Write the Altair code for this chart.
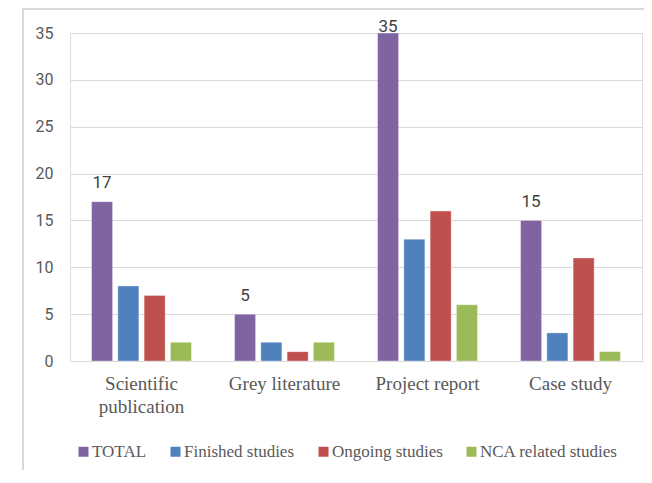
import altair as alt
import pandas as pd

categories = ["Scientific publication", "Grey literature", "Project report", "Case study"]
series = ["TOTAL", "Finished studies", "Ongoing studies", "NCA related studies"]
total = [17, 5, 35, 15]
finished = [8, 2, 13, 3]
ongoing = [7, 1, 16, 11]
nca = [2, 2, 6, 1]
colors = ["#8064A2", "#4F81BD", "#C0504D", "#9BBB59"]

rows = []
for vals, s in zip([total, finished, ongoing, nca], series):
    for c, v in zip(categories, vals):
        rows.append({"category": c, "series": s, "value": v})
df = pd.DataFrame(rows)

x_enc = alt.X(
    "category:N",
    sort=categories,
    scale=alt.Scale(paddingInner=0, paddingOuter=0),
    axis=alt.Axis(
        title=None, domain=False, ticks=False, labelAngle=0, labelPadding=13,
        labelFont="Liberation Serif", labelFontSize=19, labelColor="#595959",
        labelLineHeight=23, labelBaseline="top",
        labelExpr="datum.label == 'Scientific publication' ? ['Scientific', 'publication'] : datum.label",
    ),
)
xoff_enc = alt.XOffset(
    "series:N", sort=series,
    scale=alt.Scale(domain=series, paddingInner=0.2, paddingOuter=0.82),
)
y_enc = alt.Y(
    "value:Q",
    scale=alt.Scale(domain=[0, 35], nice=False),
    axis=alt.Axis(
        title=None, values=[0, 5, 10, 15, 20, 25, 30, 35], domain=False, ticks=False,
        labelPadding=17, labelFont="Roboto", labelFontSize=16, labelColor="#595959",
        gridColor="#d9d9d9", gridWidth=1.2,
    ),
)

bars = alt.Chart(df).mark_bar(stroke="#ffffff", strokeOpacity=0.35, strokeWidth=1).encode(
    x=x_enc,
    xOffset=xoff_enc,
    y=y_enc,
    color=alt.Color(
        "series:N", sort=series,
        scale=alt.Scale(domain=series, range=colors),
        legend=alt.Legend(
            title=None, orient="none", legendX=5, legendY=410, direction="horizontal",
            symbolType="square", symbolSize=100, symbolStrokeWidth=0,
            labelFont="Liberation Serif", labelFontSize=17, labelColor="#595959",
            labelOffset=0, columnPadding=20,
        ),
    ),
)

labels = alt.Chart(df).transform_filter(alt.datum.series == "TOTAL").transform_calculate(
    label_y="min(datum.value + 1.45, 35.1)"
).mark_text(
    baseline="alphabetic", font="Roboto", fontSize=17, color="#404040"
).encode(
    x=alt.X("category:N", sort=categories),
    xOffset=alt.XOffset("series:N", sort=series),
    y=alt.Y("label_y:Q"),
    text=alt.Text("value:Q"),
)

frame_df = pd.DataFrame({"a": [0]})
frame_top = alt.Chart(frame_df).mark_rule(color="#d9d9d9", strokeWidth=2).encode(
    x=alt.value(-48), x2=alt.value(580), y=alt.value(-24)
)
frame_left = alt.Chart(frame_df).mark_rule(color="#d9d9d9", strokeWidth=2).encode(
    x=alt.value(-47), y=alt.value(-25), y2=alt.value(440)
)

chart = alt.layer(frame_top, frame_left, bars, labels).properties(
    width=572, height=328,
    autosize=alt.AutoSizeParams(type="none"),
    padding={"left": 62, "top": 25, "right": 2, "bottom": 109},
).configure_view(stroke=None).configure(background="white")

chart.save("out.html", embed_options={"renderer": "svg", "actions": False})
